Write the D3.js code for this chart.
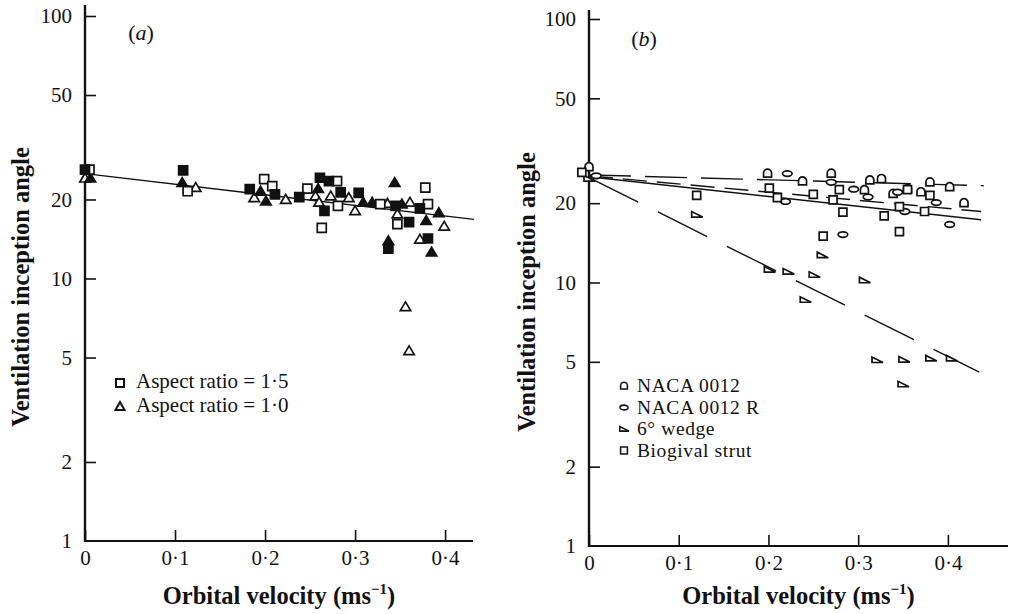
<!DOCTYPE html>
<meta charset="utf-8">
<style>
  body { margin: 0; background: #fff; }
  svg text { font-family: "Liberation Serif", "Times New Roman", serif; fill: #111; }
  .tick text { font-size: 21px; }
  .tick line { stroke: #111; stroke-width: 1.6; }
  .title { font-size: 24.5px; font-weight: bold; }
  .legend { font-size: 21px; }
</style>
<body>
<svg id="chart" width="1012" height="614"></svg>
<script src="https://cdn.jsdelivr.net/npm/d3@7/dist/d3.min.js"></script>
<script>
// values: [orbital velocity (m/s), ventilation inception angle]

// panel (a)
var aOpenSquares = [[0.005, 26.0], [0.114, 21.5], [0.199, 23.9], [0.208, 22.5], [0.247, 22.0], [0.263, 15.6],
  [0.280, 23.5], [0.281, 18.9], [0.328, 19.2], [0.347, 16.1], [0.378, 22.2], [0.381, 19.2]];
var aFilledSquares = [[0, 26.0], [0.109, 25.8], [0.183, 21.9], [0.211, 20.9], [0.238, 20.4], [0.261, 24.2],
  [0.266, 18.1], [0.271, 23.5], [0.284, 21.3], [0.304, 21.2], [0.337, 13.0], [0.345, 18.9], [0.360, 16.4],
  [0.372, 18.5], [0.381, 14.2]];
var aOpenTriangles = [[0, 24.1], [0.123, 22.2], [0.188, 20.3], [0.223, 20.0], [0.256, 20.6], [0.260, 19.5],
  [0.273, 20.6], [0.293, 20.3], [0.300, 18.1], [0.336, 19.3], [0.347, 17.6], [0.361, 19.5], [0.372, 14.1],
  [0.399, 15.8], [0.356, 7.8], [0.360, 5.3]];
var aFilledTriangles = [[0.006, 24.1], [0.108, 23.2], [0.195, 21.5], [0.201, 19.7], [0.259, 22.0], [0.309, 19.5],
  [0.319, 19.5], [0.337, 13.9], [0.344, 23.2], [0.352, 19.2], [0.379, 16.6], [0.385, 12.6], [0.393, 17.8]];
var aFit = [[0, 25.1], [0.432, 16.8]];

// panel (b)
var bNaca = [[0, 27.4], [0.199, 25.9], [0.238, 24.2], [0.270, 25.9], [0.307, 22.4], [0.313, 24.4], [0.326, 24.7],
  [0.339, 21.7], [0.355, 22.6], [0.370, 22.0], [0.380, 24.0], [0.402, 23.0], [0.418, 20.0]];
var bNacaR = [[0.008, 25.4], [0.219, 20.3], [0.221, 25.9], [0.270, 24.0], [0.283, 15.2], [0.295, 22.6],
  [0.311, 21.1], [0.344, 22.0], [0.352, 18.6], [0.387, 20.1], [0.402, 16.6]];
var bWedge = [[0, 24.8], [0.120, 18.1], [0.201, 11.2], [0.222, 11.0], [0.241, 8.6], [0.251, 10.7], [0.260, 12.7],
  [0.307, 10.2], [0.321, 5.08], [0.350, 4.11], [0.351, 5.1], [0.381, 5.15], [0.404, 5.15]];
var bStrut = [[-0.008, 26.2], [0.120, 21.4], [0.201, 22.8], [0.210, 21.0], [0.250, 21.6], [0.261, 15.0],
  [0.272, 20.6], [0.279, 22.5], [0.283, 18.5], [0.329, 17.9], [0.346, 19.4], [0.346, 15.6], [0.355, 22.5],
  [0.374, 18.6], [0.380, 21.4]];
var bNacaFit = [[0, 25.6], [0.44, 23.3]];
var bNacaRFit = [[0, 25.4], [0.437, 18.6]];
var bStrutFit = [[0, 25.2], [0.437, 17.3]];
var bWedgeFit = [[0, 25.0], [0.435, 4.57]];

var xTicks = [0, 0.1, 0.2, 0.3, 0.4];
var yTicks = [1, 2, 5, 10, 20, 50, 100];
var aLegend = ["Aspect ratio = 1·5", "Aspect ratio = 1·0"];
var bLegend = ["NACA 0012", "NACA 0012 R", "6° wedge", "Biogival strut"];

// marker shapes
var SHAPES = {
  square: "M-4.5,-4.5H4.5V4.5H-4.5Z",
  triangle: "M0,-5L5.2,3.8H-5.2Z",
  arch: "M-4,3.5V-0.5A4,4 0 0 1 4,-0.5V3.5Z",
  oval: "M-4.8,0A4.8,2.8 0 1 0 4.8,0A4.8,2.8 0 1 0 -4.8,0Z",
  wedge: "M-5,-3L-5,2.5L6,2.5Z",
  strut: "M-4,-4H4V4H-4Z"
};

var svg = d3.select("#chart");

function fmtX(d) { return d === 0 ? "0" : "0·" + Math.round(d * 10); }

function makePanel(o) {
  var x = d3.scaleLinear().domain([0, o.xMax]).range([o.left, o.right]);
  var y = d3.scaleLog().domain([1, 100]).range([o.bottom, o.top]);
  var g = svg.append("g");

  var xa = g.append("g")
    .attr("transform", "translate(0," + o.bottom + ")")
    .call(d3.axisBottom(x).tickValues(xTicks).tickFormat(fmtX).tickSize(-11).tickPadding(9));
  xa.select(".domain").remove();

  var ya = g.append("g")
    .attr("transform", "translate(" + o.left + ",0)")
    .call(d3.axisLeft(y).tickValues(yTicks).tickFormat(d3.format("d")).tickSize(-11).tickPadding(13));
  ya.select(".domain").remove();
  ya.selectAll(".tick").filter(function(d) { return d === 1; }).select("line").remove();

  // axis lines
  g.append("line").attr("x1", o.left).attr("x2", o.left).attr("y1", o.axisTop).attr("y2", o.bottom + 1)
    .attr("stroke", "#111").attr("stroke-width", 2.4);
  g.append("line").attr("x1", o.left).attr("x2", o.right).attr("y1", o.bottom).attr("y2", o.bottom)
    .attr("stroke", "#111").attr("stroke-width", 2.2);

  // axis titles
  g.append("text").attr("class", "title")
    .attr("transform", "translate(" + o.yTitleX + "," + o.yTitleY + ") rotate(-90)")
    .attr("text-anchor", "middle").text("Ventilation inception angle");
  var xt = g.append("text").attr("class", "title")
    .attr("x", (o.left + o.right) / 2).attr("y", 604).attr("text-anchor", "middle");
  xt.append("tspan").text("Orbital velocity (ms");
  xt.append("tspan").attr("font-size", "15px").attr("dy", -10).text("−1");
  xt.append("tspan").attr("dy", 10).text(")");

  // panel letter
  var lt = g.append("text").attr("x", o.letterX).attr("y", o.letterY).attr("font-size", "22px").attr("text-anchor", "middle");
  lt.append("tspan").text("(");
  lt.append("tspan").attr("font-style", "italic").text(o.letter);
  lt.append("tspan").text(")");

  return { g: g, x: x, y: y };
}

function fitLine(p, data, dash, width) {
  p.g.append("path")
    .datum(data)
    .attr("fill", "none")
    .attr("stroke", "#111")
    .attr("stroke-width", width || 1.4)
    .attr("stroke-dasharray", dash || null)
    .attr("d", d3.line().x(function(d) { return p.x(d[0]); }).y(function(d) { return p.y(d[1]); }));
}

function markers(p, data, shape, filled) {
  p.g.append("g").selectAll("path")
    .data(data)
    .enter()
    .append("path")
    .attr("d", SHAPES[shape])
    .attr("transform", function(d) { return "translate(" + p.x(d[0]) + "," + p.y(d[1]) + ")"; })
    .attr("fill", filled ? "#111" : "#fff")
    .attr("stroke", "#111")
    .attr("stroke-width", 1.7);
}

// ---- panel (a)
var pa = makePanel({ left: 85, right: 473, xMax: 0.431, top: 16, bottom: 541, axisTop: 5,
  yTitleX: 29, yTitleY: 287, letter: "a", letterX: 141, letterY: 40 });

fitLine(pa, aFit);
markers(pa, aOpenTriangles, "triangle", false);
markers(pa, aFilledTriangles, "triangle", true);
markers(pa, aOpenSquares, "square", false);
markers(pa, aFilledSquares, "square", true);

var legA = pa.g.selectAll(".legA")
  .data(aLegend)
  .enter()
  .append("g")
  .attr("class", "legend")
  .attr("transform", function(d, i) { return "translate(120," + (383 + i * 23.5) + ")"; });
legA.append("path")
  .attr("d", function(d, i) { return i === 0 ? "M-4,-4H4V4H-4Z" : "M0,-4.5L4.5,3.5H-4.5Z"; })
  .attr("fill", "#fff").attr("stroke", "#111").attr("stroke-width", 2);
legA.append("text").attr("x", 16).attr("y", 5).text(function(d) { return d; });

// ---- panel (b)
var pb = makePanel({ left: 589, right: 1008, xMax: 0.467, top: 19, bottom: 546, axisTop: 10,
  yTitleX: 535, yTitleY: 292, letter: "b", letterX: 644, letterY: 46 });

fitLine(pb, bNacaFit, "42,14");
fitLine(pb, bNacaRFit, "24,10");
fitLine(pb, bStrutFit);
fitLine(pb, bWedgeFit, "55,22");
markers(pb, bNaca, "arch", false);
markers(pb, bNacaR, "oval", false);
markers(pb, bWedge, "wedge", false);
markers(pb, bStrut, "strut", false);

var bShapes = ["arch", "oval", "wedge", "strut"];
var legB = pb.g.selectAll(".legB")
  .data(bLegend)
  .enter()
  .append("g")
  .attr("class", "legend")
  .attr("transform", function(d, i) { return "translate(624," + (386 + i * 21.5) + ")"; });
legB.append("path")
  .attr("d", function(d, i) { return SHAPES[bShapes[i]]; })
  .attr("transform", "scale(0.85)")
  .attr("fill", "#fff").attr("stroke", "#111").attr("stroke-width", 1.8);
legB.append("text").attr("x", 13).attr("y", 6)
  .style("font-size", "19.5px").style("letter-spacing", "0.6px")
  .text(function(d) { return d; });
</script>
</body>
